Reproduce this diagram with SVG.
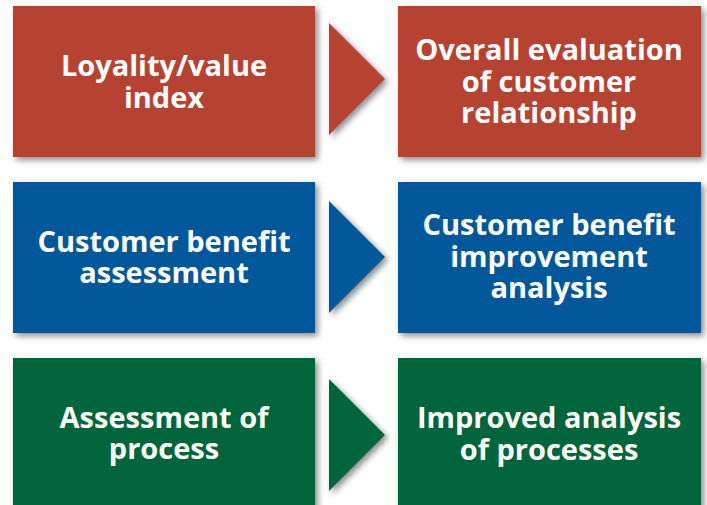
<svg xmlns="http://www.w3.org/2000/svg" width="707" height="505" viewBox="0 0 707 505">
  <defs>
    <filter id="shadow" x="-10%" y="-10%" width="125%" height="130%">
      <feDropShadow dx="3" dy="3" stdDeviation="3" flood-color="#000" flood-opacity="0.45"/>
    </filter>
    <style>
      .box { filter: url(#shadow); }
      .red { fill: #b64232; }
      .blue { fill: #00589a; }
      .green { fill: #02653a; }
      .label { font-family: "Open Sans", "Liberation Sans", sans-serif; font-weight: bold; font-size: 29px; fill: #ffffff; text-anchor: middle; }
    </style>
  </defs>
  <rect width="707" height="505" fill="#ffffff"/>

  <!-- Row 1: loyalty -->
  <g id="loyalty-index">
    <rect class="box red" x="13" y="6" width="302" height="151"/>
    <text class="label"><tspan x="164" y="76">Loyality/value</tspan><tspan x="164" y="108">index</tspan></text>
  </g>
  <g id="overall-evaluation">
    <rect class="box red" x="398" y="6" width="303" height="151"/>
    <text class="label"><tspan x="549" y="60">Overall evaluation</tspan><tspan x="549" y="92">of customer</tspan><tspan x="549" y="123">relationship</tspan></text>
  </g>

  <!-- Row 2: customer benefit -->
  <g id="benefit-assessment">
    <rect class="box blue" x="13" y="182" width="302" height="151"/>
    <text class="label"><tspan x="164" y="252">Customer benefit</tspan><tspan x="164" y="283">assessment</tspan></text>
  </g>
  <g id="benefit-improvement">
    <rect class="box blue" x="398" y="182" width="303" height="151"/>
    <text class="label"><tspan x="549" y="235">Customer benefit</tspan><tspan x="549" y="267">improvement</tspan><tspan x="549" y="298">analysis</tspan></text>
  </g>

  <!-- Row 3: process -->
  <g id="process-assessment">
    <rect class="box green" x="13" y="358" width="302" height="151"/>
    <text class="label"><tspan x="164" y="428">Assessment of</tspan><tspan x="164" y="459">process</tspan></text>
  </g>
  <g id="process-analysis">
    <rect class="box green" x="398" y="358" width="303" height="151"/>
    <text class="label"><tspan x="549" y="428">Improved analysis</tspan><tspan x="549" y="460">of processes</tspan></text>
  </g>

  <!-- Connectors: triangular arrows between paired boxes -->
  <g id="connectors">
    <polygon class="box red" points="329,23 385,79 329,135"/>
    <polygon class="box blue" points="329,201 385,257 329,313"/>
    <polygon class="box green" points="329,379 385,435 329,491"/>
  </g>
</svg>
